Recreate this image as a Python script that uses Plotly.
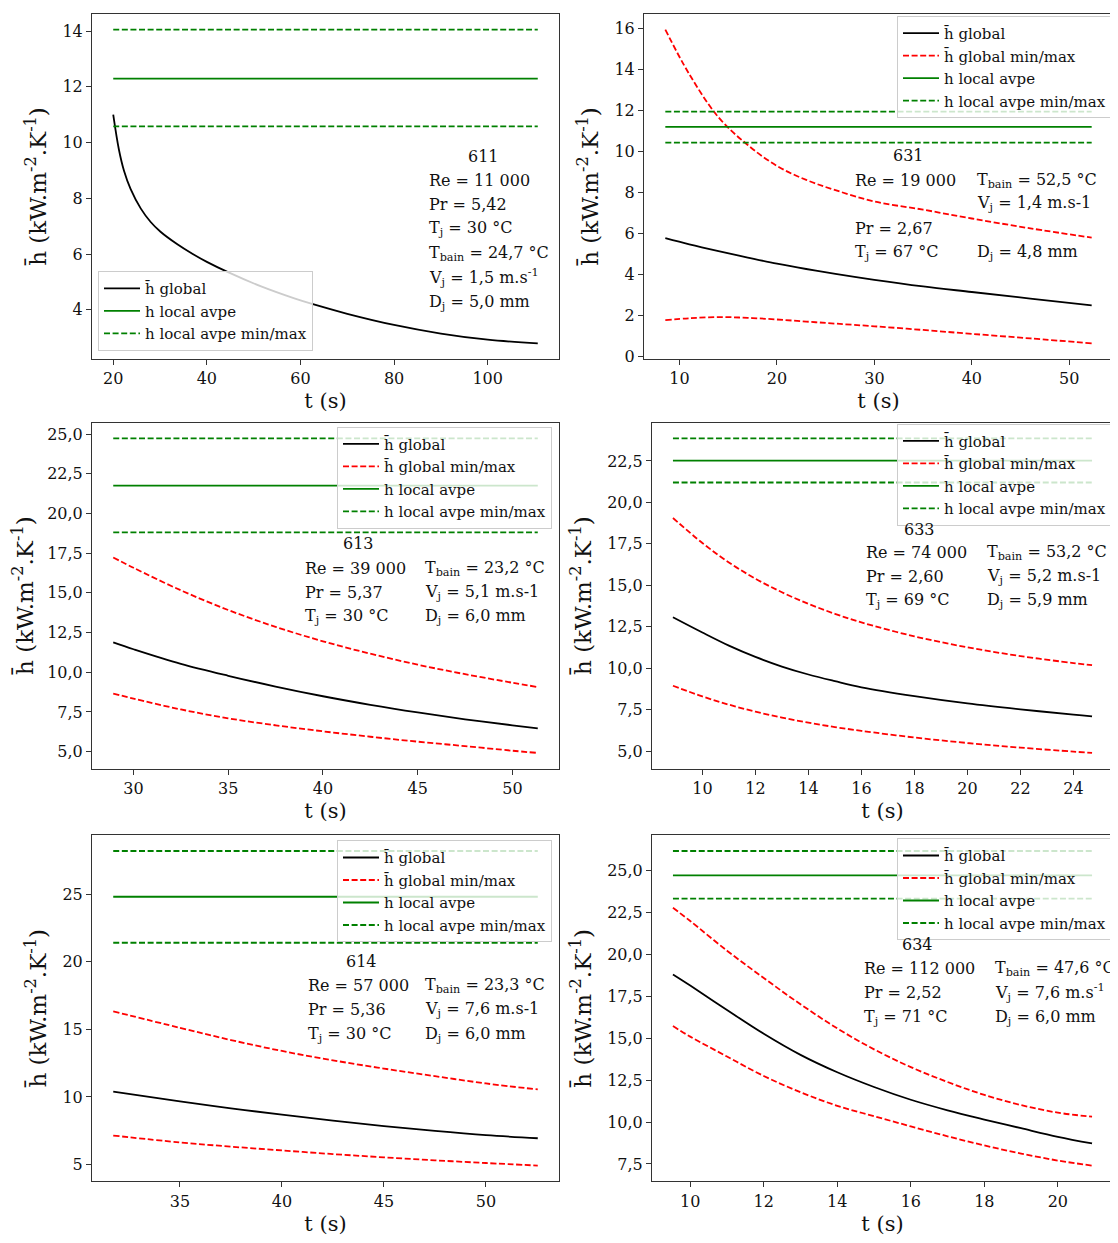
import plotly.graph_objects as go

# page body has an 8 px margin: the figure is drawn at (8, 8)
OFF = 8
W, H = 1118 - OFF, 1243 - OFF

# ---------------- data ----------------
# Essai 611
t_611 = [20, 21.2, 22.3, 23.7, 25.9, 28, 30.1, 33.7, 36.9, 40, 44.4, 51.6, 58.7, 62.3, 70, 80, 90, 100, 110.7]
hg_611 = [11.0, 9.76, 8.99, 8.34, 7.63, 7.15, 6.80, 6.35, 6.01, 5.72, 5.36, 4.84, 4.41, 4.22, 3.86, 3.46, 3.15, 2.93, 2.80]
hl_611 = [12.29, 10.58, 14.05]          # avpe, min, max

# Essai 631
t_631 = [8.54, 11, 14, 17, 20, 23, 26, 30, 35, 40, 46, 52.3]
hg_631 = [5.76, 5.46, 5.13, 4.82, 4.52, 4.26, 4.02, 3.73, 3.41, 3.14, 2.82, 2.49]
hgmax_631 = [15.92, 13.75, 11.65, 10.30, 9.28, 8.60, 8.10, 7.55, 7.15, 6.72, 6.24, 5.79]
hgmin_631 = [1.77, 1.86, 1.92, 1.88, 1.80, 1.70, 1.60, 1.47, 1.29, 1.10, 0.88, 0.64]
hl_631 = [11.18, 10.42, 11.93]

# Essai 613
t_613 = [28.93, 30, 32.5, 35, 37.5, 40, 42.5, 45, 47.5, 50, 51.34]
hg_613 = [11.88, 11.45, 10.53, 9.78, 9.10, 8.49, 7.95, 7.47, 7.04, 6.66, 6.47]
hgmax_613 = [17.23, 16.58, 15.16, 13.92, 12.86, 11.95, 11.17, 10.48, 9.88, 9.34, 9.07]
hgmin_613 = [8.66, 8.34, 7.66, 7.10, 6.66, 6.28, 5.94, 5.63, 5.35, 5.06, 4.92]
hl_613 = [21.76, 18.81, 24.73]

# Essai 633
t_633 = [8.89, 10, 11, 12, 13, 14, 15, 16, 18, 20, 22, 24, 24.7]
hg_633 = [13.07, 12.15, 11.36, 10.68, 10.10, 9.62, 9.22, 8.85, 8.32, 7.88, 7.52, 7.20, 7.10]
hgmax_633 = [19.06, 17.55, 16.38, 15.40, 14.58, 13.88, 13.28, 12.76, 11.92, 11.26, 10.73, 10.31, 10.18]
hgmin_633 = [8.94, 8.30, 7.80, 7.38, 7.02, 6.72, 6.45, 6.22, 5.82, 5.49, 5.21, 4.97, 4.89]
hl_633 = [22.52, 21.20, 23.86]

# Essai 614
t_614 = [31.73, 35, 37.5, 40, 42.5, 45, 47.5, 50, 52.54]
hg_614 = [10.39, 9.67, 9.16, 8.69, 8.25, 7.85, 7.49, 7.18, 6.95]
hgmax_614 = [16.33, 15.11, 14.21, 13.40, 12.71, 12.10, 11.54, 11.00, 10.56]
hgmin_614 = [7.15, 6.64, 6.33, 6.05, 5.78, 5.54, 5.32, 5.12, 4.93]
hl_614 = [24.80, 21.40, 28.18]

# Essai 634
t_634 = [9.53, 10, 11, 12, 13, 14, 15, 16, 17, 18, 19, 20, 20.93]
hg_634 = [18.81, 18.15, 16.69, 15.27, 14.01, 12.97, 12.09, 11.33, 10.70, 10.15, 9.63, 9.12, 8.72]
hgmax_634 = [22.79, 22.0, 20.23, 18.60, 17.03, 15.59, 14.34, 13.28, 12.39, 11.62, 11.01, 10.56, 10.32]
hgmin_634 = [15.73, 15.10, 13.91, 12.75, 11.78, 10.97, 10.35, 9.74, 9.15, 8.60, 8.12, 7.70, 7.40]
hl_634 = [24.72, 23.34, 26.18]

# parameter texts
txt_611 = ["611", "Re = 11 000", "Pr = 5,42", "T<sub>j</sub> = 30 °C", "T<sub>bain</sub> = 24,7 °C",
           "V<sub>j</sub> = 1,5 m.s<sup>-1</sup>", "D<sub>j</sub> = 5,0 mm"]
txt_631 = ["631", "Re = 19 000", "T<sub>bain</sub> = 52,5 °C", "V<sub>j</sub> = 1,4 m.s-1",
           "Pr = 2,67", "T<sub>j</sub> = 67 °C", "D<sub>j</sub> = 4,8 mm"]
txt_613 = ["613", "Re = 39 000", "T<sub>bain</sub> = 23,2 °C", "Pr = 5,37",
           "V<sub>j</sub> = 5,1 m.s-1", "T<sub>j</sub> = 30 °C", "D<sub>j</sub> = 6,0 mm"]
txt_633 = ["633", "Re = 74 000", "T<sub>bain</sub> = 53,2 °C", "Pr = 2,60",
           "V<sub>j</sub> = 5,2 m.s-1", "T<sub>j</sub> = 69 °C", "D<sub>j</sub> = 5,9 mm"]
txt_614 = ["614", "Re = 57 000", "T<sub>bain</sub> = 23,3 °C", "Pr = 5,36",
           "V<sub>j</sub> = 7,6 m.s-1", "T<sub>j</sub> = 30 °C", "D<sub>j</sub> = 6,0 mm"]
txt_634 = ["634", "Re = 112 000", "T<sub>bain</sub> = 47,6 °C", "Pr = 2,52",
           "V<sub>j</sub> = 7,6 m.s<sup>-1</sup>", "T<sub>j</sub> = 71 °C", "D<sub>j</sub> = 6,0 mm"]

HBAR = "h\u0304"
lab_global = HBAR + " global"
lab_global_mm = HBAR + " global min/max"
lab_local = "h local avpe"
lab_local_mm = "h local avpe min/max"

# ---------------- layout helpers (reference pixels -> paper) ----------------
def px(x):
    return (x - OFF) / W

def py(y):
    return 1 - (y - OFF) / H

FONT = "DejaVu Serif"
BLACK, RED, GREEN = "#000000", "#ff0000", "#008000"
DASH = "6px,2.6px"
LW = 1.8

panels = [
    dict(t=t_611, hg=hg_611, lo=None, hi=None, hl=hl_611, txt=txt_611,
         box=(92, 559, 14, 361), ydt=2, yfmt="", xdt=20,
         leg=dict(x=98, y=353, xa="left", ya="bottom"),
         pos=[(483, 157, "center"), (427, 181, "left"), (427, 206, "left"), (427, 230, "left"),
              (427, 255, "left"), (427, 279, "left"), (427, 304, "left")]),
    dict(t=t_631, hg=hg_631, lo=hgmin_631, hi=hgmax_631, hl=hl_631, txt=txt_631,
         box=(644, 1113, 14, 361), ydt=2, yfmt="", xdt=10,
         leg=dict(x=1112, y=16, xa="right", ya="top"),
         pos=[(908, 156, "center"), (853, 181, "left"), (975, 181, "left"), (975, 205, "left"),
              (853, 230, "left"), (853, 254, "left"), (975, 254, "left")]),
    dict(t=t_613, hg=hg_613, lo=hgmin_613, hi=hgmax_613, hl=hl_613, txt=txt_613,
         box=(92, 559, 425, 773), ydt=2.5, yfmt=".1f", xdt=5,
         leg=dict(x=552, y=429, xa="right", ya="top"),
         pos=[(358, 547, "center"), (303, 572, "left"), (423, 572, "left"), (303, 596, "left"),
              (423, 596, "left"), (303, 620, "left"), (423, 620, "left")]),
    dict(t=t_633, hg=hg_633, lo=hgmin_633, hi=hgmax_633, hl=hl_633, txt=txt_633,
         box=(652, 1113, 425, 773), ydt=2.5, yfmt=".1f", xdt=2,
         leg=dict(x=1112, y=426, xa="right", ya="top"),
         pos=[(919, 532, "center"), (864, 556, "left"), (985, 556, "left"), (864, 580, "left"),
              (985, 580, "left"), (864, 604, "left"), (985, 604, "left")]),
    dict(t=t_614, hg=hg_614, lo=hgmin_614, hi=hgmax_614, hl=hl_614, txt=txt_614,
         box=(92, 559, 840, 1188), ydt=5, yfmt="", xdt=5,
         leg=dict(x=552, y=845, xa="right", ya="top"),
         pos=[(361, 967, "center"), (306, 991, "left"), (423, 991, "left"), (306, 1015, "left"),
              (423, 1015, "left"), (306, 1040, "left"), (423, 1040, "left")]),
    dict(t=t_634, hg=hg_634, lo=hgmin_634, hi=hgmax_634, hl=hl_634, txt=txt_634,
         box=(652, 1113, 840, 1188), ydt=2.5, yfmt=".1f", xdt=2,
         leg=dict(x=1112, y=843, xa="right", ya="top"),
         pos=[(917, 950, "center"), (862, 974, "left"), (993, 974, "left"), (862, 998, "left"),
              (993, 998, "left"), (862, 1023, "left"), (993, 1023, "left")]),
]

fig = go.Figure()
layout = dict(
    width=W, height=H, margin=dict(l=0, r=0, t=0, b=0),
    paper_bgcolor="white", plot_bgcolor="white",
    separators=", ",
    font=dict(family=FONT, size=16, color="#111111"),
    annotations=[],
)

def pad_range(vals):
    lo, hi = min(vals), max(vals)
    m = 0.05 * (hi - lo)
    return [lo - m, hi + m]

for i, p in enumerate(panels, start=1):
    xa = "x" if i == 1 else f"x{i}"
    ya = "y" if i == 1 else f"y{i}"
    lg = "legend" if i == 1 else f"legend{i}"
    t = p["t"]
    tspan = [t[0], t[-1]]
    common = dict(xaxis=xa, yaxis=ya, legend=lg, mode="lines")

    fig.add_trace(go.Scatter(x=t, y=p["hg"], name=lab_global,
                             line=dict(color=BLACK, width=LW, shape="spline"),
                             legendrank=1, **common))
    allv = list(p["hg"]) + list(p["hl"])
    if p["lo"] is not None:
        fig.add_trace(go.Scatter(x=t, y=p["hi"], name=lab_global_mm, legendgroup=f"gmm{i}",
                                 line=dict(color=RED, width=LW, dash=DASH, shape="spline"),
                                 legendrank=2, **common))
        fig.add_trace(go.Scatter(x=t, y=p["lo"], name=lab_global_mm, legendgroup=f"gmm{i}", showlegend=False,
                                 line=dict(color=RED, width=LW, dash=DASH, shape="spline"), **common))
        allv += list(p["lo"]) + list(p["hi"])
    avpe, hmin, hmax = p["hl"]
    fig.add_trace(go.Scatter(x=tspan, y=[avpe, avpe], name=lab_local,
                             line=dict(color=GREEN, width=LW), legendrank=3, **common))
    fig.add_trace(go.Scatter(x=tspan, y=[hmax, hmax], name=lab_local_mm, legendgroup=f"lmm{i}",
                             line=dict(color=GREEN, width=LW, dash=DASH), legendrank=4, **common))
    fig.add_trace(go.Scatter(x=tspan, y=[hmin, hmin], name=lab_local_mm, legendgroup=f"lmm{i}", showlegend=False,
                             line=dict(color=GREEN, width=LW, dash=DASH), **common))

    x0, x1, y0, y1 = p["box"]
    axstyle = dict(showline=True, mirror=True, linecolor="#333333", linewidth=1, ticks="outside",
                   ticklen=5, tickcolor="#333333", showgrid=False, zeroline=False,
                   tickfont=dict(family=FONT, size=16, color="#111111"))
    layout["xaxis" if i == 1 else f"xaxis{i}"] = dict(
        domain=[px(x0), px(x1)], anchor=ya, range=pad_range(t), tick0=0, dtick=p["xdt"],
        title=dict(text="t (s)", font=dict(family=FONT, size=21), standoff=6), **axstyle)
    layout["yaxis" if i == 1 else f"yaxis{i}"] = dict(
        domain=[py(y1), py(y0)], anchor=xa, range=pad_range(allv), tick0=0, dtick=p["ydt"],
        tickformat=p["yfmt"],
        title=dict(text=HBAR + " (kW.m<sup>-2</sup>.K<sup>-1</sup>)", font=dict(family=FONT, size=23), standoff=9),
        **axstyle)
    L = p["leg"]
    layout[lg] = dict(x=px(L["x"]), y=py(L["y"]), xanchor=L["xa"], yanchor=L["ya"],
                      xref="paper", yref="paper", itemwidth=36,
                      bgcolor="rgba(255,255,255,0.8)", bordercolor="#cccccc", borderwidth=1,
                      font=dict(family=FONT, size=15, color="#111111"), tracegroupgap=0,
                      traceorder="normal")
    for txt, (tx, ty, al) in zip(p["txt"], p["pos"]):
        layout["annotations"].append(dict(
            text=txt, x=px(tx), y=py(ty), xref="paper", yref="paper",
            xanchor=al, yanchor="middle", showarrow=False,
            font=dict(family=FONT, size=16, color="#111111")))

fig.update_layout(**layout)
fig.write_html("out.html")
